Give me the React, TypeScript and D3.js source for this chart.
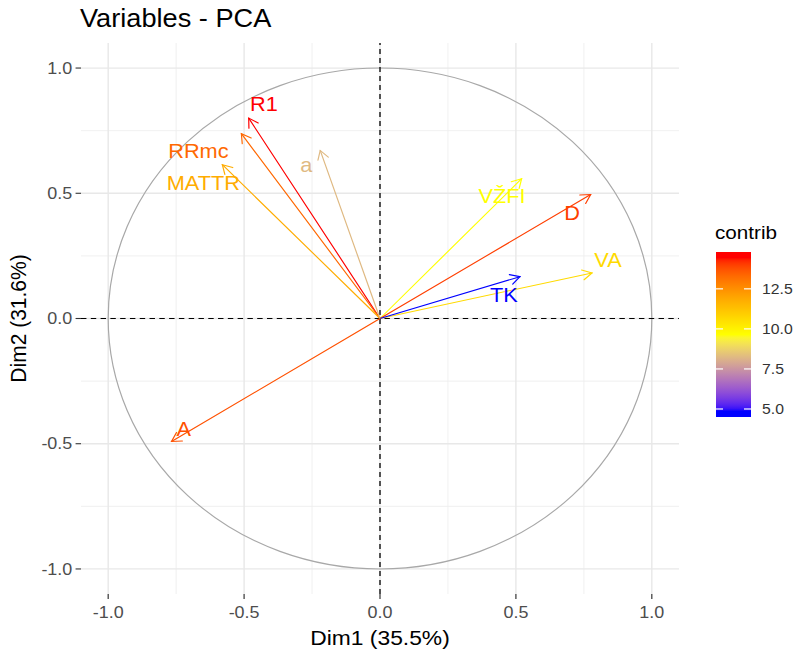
import React from "react";
import * as d3 from "d3";

const variables = ["R1", "RRmc", "MATTR", "a", "VŽFI", "D", "VA", "TK", "A"];
const dim1 = [-0.483, -0.51, -0.58, -0.22, 0.521, 0.775, 0.78, 0.515, -0.767];
const dim2 = [0.8, 0.738, 0.614, 0.671, 0.558, 0.495, 0.182, 0.167, -0.491];
const contrib = [14.45, 13.33, 11.8, 8.25, 9.65, 14.0, 10.63, 4.85, 13.73];
// repelled label positions (data units)
const labelDim1 = [-0.427, -0.668, -0.65, -0.271, 0.449, 0.707, 0.839, 0.456, -0.722];
const labelDim2 = [0.855, 0.667, 0.54, 0.613, 0.488, 0.42, 0.234, 0.095, -0.443];
const axisTicks = [-1, -0.5, 0, 0.5, 1];
const minorTicks = [-0.75, -0.25, 0.25, 0.75];
const legendTicks = [5, 7.5, 10, 12.5];
const legendRange = [4.5, 14.8];
const xTitle = "Dim1 (35.5%)";
const yTitle = "Dim2 (31.6%)";
const chartTitle = "Variables - PCA";

const W = 802;
const H = 651;
const S = 273 / 251; // horizontal stretch
const FONT = "'Liberation Sans', Arial, sans-serif";

export default function App() {
  const innerW = W / S;
  const x = d3.scaleLinear().domain([-1.1, 1.1]).range([81 / S, 679 / S]);
  const y = d3.scaleLinear().domain([-1.1, 1.1]).range([594, 43]);
  const cMin = d3.min(contrib) as number;
  const cMax = d3.max(contrib) as number;
  const color = d3
    .scaleLinear<string>()
    .domain([cMin, (cMin + cMax) / 2, cMax])
    .range(["blue", "yellow", "red"])
    .interpolate(d3.interpolateLab)
    .clamp(true);

  const f1 = d3.format(".1f");
  const fmt = (v: number) => f1(v).replace("\u2212", "-");
  const legY = d3.scaleLinear().domain(legendRange).range([417, 252]);
  const legX = 716 / S;
  const legW = 35 / S;
  const stops = d3.range(0, 61).map((i) => {
    const v = legendRange[0] + ((legendRange[1] - legendRange[0]) * i) / 60;
    return { off: i / 60, col: color(v) };
  });

  const x0 = x(0);
  const y0 = y(0);
  const head = 10;
  const ang = Math.PI / 6;

  return (
    <svg width={W} height={H} style={{ display: "block", position: "absolute", left: 0, top: 0, background: "#fff" }}>
      <defs>
        <linearGradient id="cbar" x1="0" y1="1" x2="0" y2="0">
          {stops.map((s, i) => (
            <stop key={i} offset={s.off} stopColor={s.col} />
          ))}
        </linearGradient>
      </defs>
      <g transform={`scale(${S},1)`} fontFamily={FONT}>
        <rect x={0} y={0} width={innerW} height={H} fill="#fff" />
        {/* minor grid */}
        {minorTicks.map((t) => (
          <g key={"m" + t}>
            <line x1={x(t)} x2={x(t)} y1={y(-1.1)} y2={y(1.1)} stroke="#ededed" strokeWidth={0.8} />
            <line x1={x(-1.1)} x2={x(1.1)} y1={y(t)} y2={y(t)} stroke="#ededed" strokeWidth={0.8} />
          </g>
        ))}
        {/* major grid */}
        {axisTicks.map((t) => (
          <g key={"M" + t}>
            <line x1={x(t)} x2={x(t)} y1={y(-1.1)} y2={y(1.1)} stroke="#e8e8e8" strokeWidth={1.3} />
            <line x1={x(-1.1)} x2={x(1.1)} y1={y(t)} y2={y(t)} stroke="#e8e8e8" strokeWidth={1.3} />
          </g>
        ))}
        {/* circle */}
        <ellipse cx={x0} cy={y0} rx={x(1) - x0} ry={y0 - y(1)} fill="none" stroke="#a8a8a8" strokeWidth={1.1} />
        {/* dashed axes */}
        <line x1={x0} x2={x0} y1={y(-1.1)} y2={y(1.1)} stroke="#000" strokeWidth={1.2} strokeDasharray="5,4" />
        <line x1={x(-1.1)} x2={x(1.1)} y1={y0} y2={y0} stroke="#000" strokeWidth={1.2} strokeDasharray="5,4" />
        {/* arrows */}
        {variables.map((v, i) => {
          const tx = x(dim1[i]);
          const ty = y(dim2[i]);
          const a = Math.atan2(ty - y0, tx - x0);
          const p1 = [tx - head * Math.cos(a - ang), ty - head * Math.sin(a - ang)];
          const p2 = [tx - head * Math.cos(a + ang), ty - head * Math.sin(a + ang)];
          const c = color(contrib[i]);
          return (
            <g key={v} stroke={c} strokeWidth={1.1} fill="none" strokeLinecap="round">
              <line x1={x0} y1={y0} x2={tx} y2={ty} />
              <polyline points={`${p1[0]},${p1[1]} ${tx},${ty} ${p2[0]},${p2[1]}`} />
            </g>
          );
        })}
        {variables.map((v, i) => (
          <text
            key={"l" + v}
            x={x(labelDim1[i])}
            y={y(labelDim2[i])}
            dy="0.35em"
            textAnchor="middle"
            fontSize={20}
            fill={color(contrib[i])}
          >
            {v}
          </text>
        ))}
        {/* axis ticks and labels */}
        {axisTicks.map((t) => (
          <g key={"t" + t}>
            <line x1={x(-1.1) - 5} x2={x(-1.1)} y1={y(t)} y2={y(t)} stroke="#333" strokeWidth={1.1} />
            <text x={x(-1.1) - 8} y={y(t)} dy="0.35em" textAnchor="end" fontSize={16.5} fill="#4d4d4d">
              {fmt(t)}
            </text>
            <line x1={x(t)} x2={x(t)} y1={y(-1.1)} y2={y(-1.1) + 5} stroke="#333" strokeWidth={1.1} />
            <text x={x(t)} y={618} textAnchor="middle" fontSize={16.5} fill="#4d4d4d">
              {fmt(t)}
            </text>
          </g>
        ))}
        <text x={x0} y={645} textAnchor="middle" fontSize={21} fill="#000">
          {xTitle}
        </text>
        <text transform={`translate(${26 / S},${y0}) rotate(-90)`} textAnchor="middle" fontSize={21} fill="#000">
          {yTitle}
        </text>
        <text x={80 / S} y={27} fontSize={25} fill="#000">
          {chartTitle}
        </text>
        {/* legend */}
        <text x={715 / S} y={239} fontSize={19} fill="#000">
          contrib
        </text>
        <rect x={legX} y={legY(legendRange[1])} width={legW} height={legY(legendRange[0]) - legY(legendRange[1])} fill="url(#cbar)" />
        {legendTicks.map((t) => (
          <g key={"lt" + t}>
            <line x1={legX} x2={legX + legW / 5} y1={legY(t)} y2={legY(t)} stroke="#fff" strokeWidth={1.2} />
            <line x1={legX + legW - legW / 5} x2={legX + legW} y1={legY(t)} y2={legY(t)} stroke="#fff" strokeWidth={1.2} />
            <text x={762 / S} y={legY(t)} dy="0.35em" fontSize={14.5} fill="#333">
              {fmt(t)}
            </text>
          </g>
        ))}
      </g>
    </svg>
  );
}
